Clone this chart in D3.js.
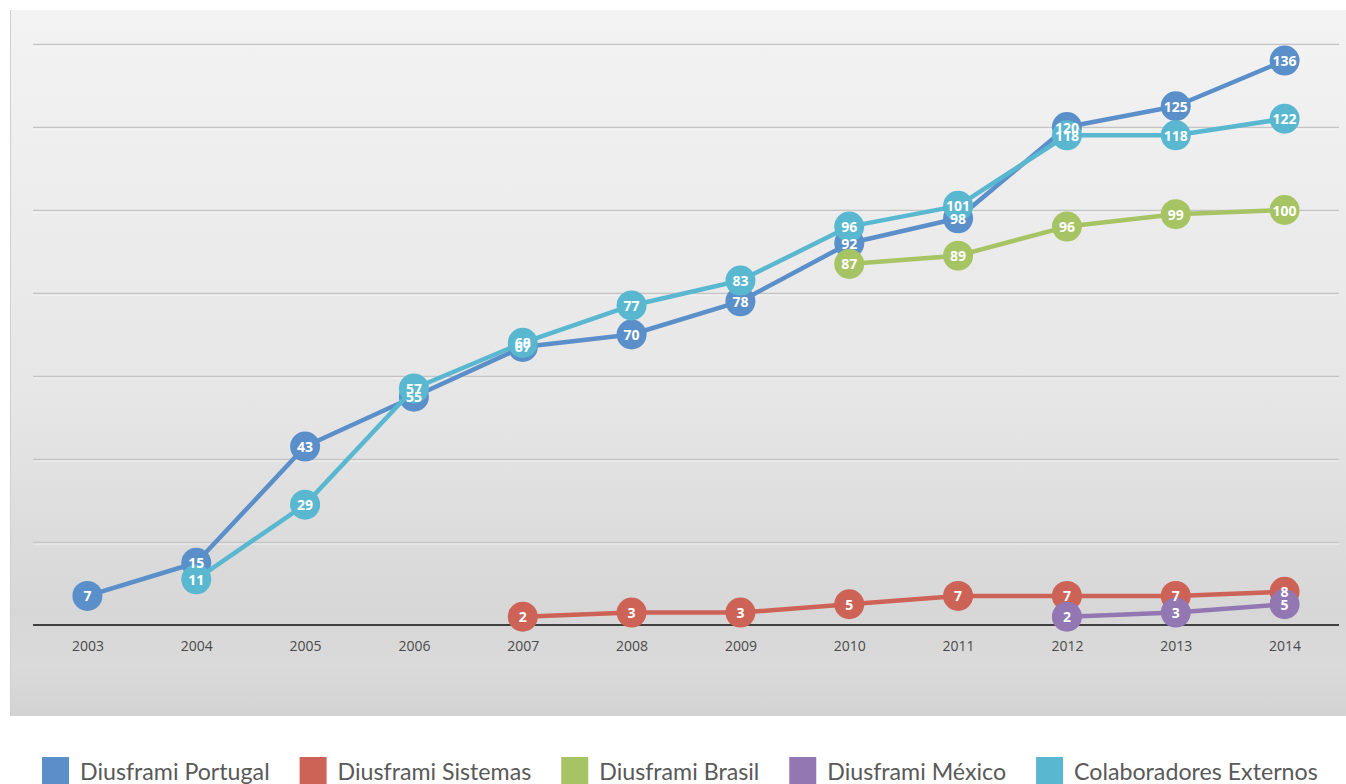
<!DOCTYPE html>
<html>
<head>
<meta charset="utf-8">
<script src="https://cdn.jsdelivr.net/npm/d3@7"></script>
<style>
  html, body { margin: 0; padding: 0; background: #ffffff; }
  svg { display: block; }
</style>
</head>
<body>
<svg id="chart" width="1346" height="784"></svg>
<script>
// ---- data ----
const years = ["2003","2004","2005","2006","2007","2008","2009","2010","2011","2012","2013","2014"];
const seriesNames = ["Diusframi Portugal","Diusframi Sistemas","Diusframi Brasil","Diusframi México","Colaboradores Externos"];
const portugal      = [7, 15, 43, 55, 67, 70, 78, 92, 98, 120, 125, 136];
const sistemas      = [null, null, null, null, 2, 3, 3, 5, 7, 7, 7, 8];
const brasil        = [null, null, null, null, null, null, null, 87, 89, 96, 99, 100];
const mexico        = [null, null, null, null, null, null, null, null, null, 2, 3, 5];
const colaboradores = [null, 11, 29, 57, 68, 77, 83, 96, 101, 118, 118, 122];
const colors = ["#5B8FC9", "#CD6357", "#A7C465", "#9377B2", "#59B8D0"];
const yTicks = [0, 20, 40, 60, 80, 100, 120, 140];

const seriesValues = [portugal, sistemas, brasil, mexico, colaboradores];
const series = seriesNames.map((name, i) => ({
  name, color: colors[i],
  points: years.map((y, j) => ({ year: y, value: seriesValues[i][j] })).filter(d => d.value != null)
}));

// ---- layout ----
const svg = d3.select("#chart");
const panel = { x: 10, y: 10, w: 1336, h: 706 };
const plot = { left: 33, right: 1339, top: 44, bottom: 625 };

const defs = svg.append("defs");
const grad = defs.append("linearGradient").attr("id", "bg").attr("x1", 0).attr("y1", 0).attr("x2", 0).attr("y2", 1);
grad.append("stop").attr("offset", "0%").attr("stop-color", "#f3f3f3");
grad.append("stop").attr("offset", "55%").attr("stop-color", "#e6e6e6");
grad.append("stop").attr("offset", "85%").attr("stop-color", "#d7d7d7");
grad.append("stop").attr("offset", "93%").attr("stop-color", "#dadada");
grad.append("stop").attr("offset", "100%").attr("stop-color", "#d3d3d3");

svg.append("rect").attr("x", panel.x).attr("y", panel.y).attr("width", panel.w).attr("height", panel.h)
  .attr("fill", "url(#bg)");
svg.append("line").attr("x1", panel.x + 0.5).attr("x2", panel.x + 0.5).attr("y1", panel.y).attr("y2", panel.y + panel.h)
  .attr("stroke", "#d0d0d0").attr("stroke-width", 1);

const x = d3.scalePoint().domain(years).range([plot.left, plot.right]).padding(0.5);
const y = d3.scaleLinear().domain([0, 140]).range([plot.bottom, plot.top]);

// gridlines
const grid = svg.append("g");
grid.selectAll("line.g").data(yTicks.filter(t => t > 0)).join("line").attr("class", "g")
  .attr("x1", plot.left).attr("x2", plot.right)
  .attr("y1", d => Math.round(y(d)) + 0.5).attr("y2", d => Math.round(y(d)) + 0.5)
  .attr("stroke", "#c4c4c4").attr("stroke-width", 1.5);
grid.selectAll("line.h").data(yTicks.filter(t => t > 0)).join("line").attr("class", "h")
  .attr("x1", plot.left).attr("x2", plot.right)
  .attr("y1", d => Math.round(y(d)) + 2).attr("y2", d => Math.round(y(d)) + 2)
  .attr("stroke", "#ffffff").attr("stroke-opacity", 0.6).attr("stroke-width", 1);

// x axis
const xAxis = d3.axisBottom(x).tickSize(0).tickPadding(16);
const gx = svg.append("g").attr("transform", `translate(0,${y(0)})`).call(xAxis);
gx.select(".domain").attr("stroke", "#404040").attr("stroke-width", 2.2)
  .attr("d", `M${plot.left},0H${plot.right}`);
gx.selectAll("text").attr("fill", "#4a4a4a").attr("font-size", "14px")
  .attr("font-family", "'Open Sans', 'Noto Sans', sans-serif");

// lines
const line = d3.line().x(d => x(d.year)).y(d => y(d.value));
const gSeries = svg.append("g");
series.forEach(s => {
  gSeries.append("path").datum(s.points).attr("d", line)
    .attr("fill", "none").attr("stroke", s.color).attr("stroke-width", 4.5)
    .attr("stroke-linejoin", "round").attr("stroke-linecap", "round");
  gSeries.selectAll(null).data(s.points).join("circle")
    .attr("cx", d => x(d.year)).attr("cy", d => y(d.value)).attr("r", 15)
    .attr("fill", s.color);
});
// labels
const gLabels = svg.append("g");
series.forEach(s => {
  gLabels.selectAll(null).data(s.points).join("text")
    .attr("x", d => x(d.year)).attr("y", d => y(d.value))
    .attr("text-anchor", "middle").attr("dominant-baseline", "central")
    .attr("fill", "#ffffff").attr("font-size", "14px").attr("font-weight", 700)
    .attr("font-family", "'Open Sans', 'Noto Sans', sans-serif")
    .text(d => d.value);
});

// legend (flow layout)
const legend = svg.append("g");
let lx = 42;
series.forEach((s, i) => {
  const g = legend.append("g");
  g.append("rect").attr("x", lx).attr("y", 757).attr("width", 27).attr("height", 27).attr("fill", s.color);
  const t = g.append("text").attr("x", lx + 38).attr("y", 780)
    .attr("fill", "#595959").attr("font-size", "23.2px")
    .attr("font-family", "Lato, 'Open Sans', sans-serif")
    .text(s.name);
  const w = t.node().getComputedTextLength();
  lx += 38 + w + 30;
});
</script>
</body>
</html>
